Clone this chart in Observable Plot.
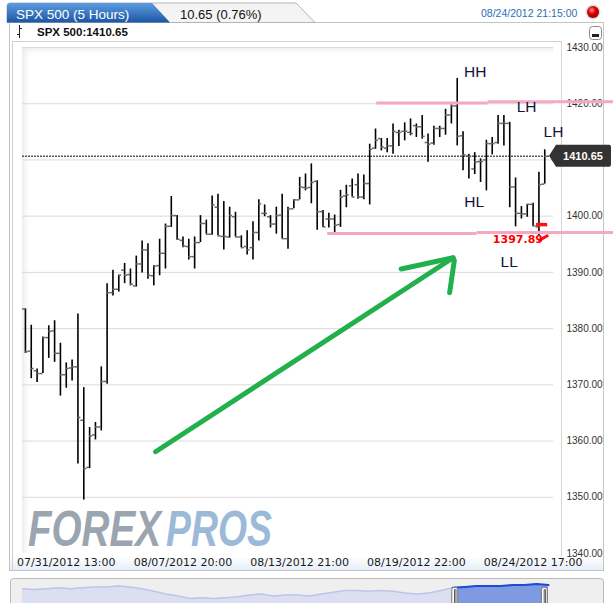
<!DOCTYPE html>
<html><head><meta charset="utf-8">
<script src="https://cdn.jsdelivr.net/npm/d3@7"></script>
<script src="https://cdn.jsdelivr.net/npm/@observablehq/plot@0.6"></script>
<style>
body{margin:0;background:#fff;}
#wrap{position:relative;width:613px;height:603px;overflow:hidden;font-family:"Liberation Sans",Arial,sans-serif;}
#plotbg{position:absolute;left:22px;top:47px;width:531px;height:506px;background:#fff;box-shadow:inset 7px 7px 7px -5px rgba(0,0,0,0.10);}
#chart{position:absolute;left:0;top:0;}
#chrome{position:absolute;left:0;top:0;}
#nav{position:absolute;left:0;top:576px;}
</style></head><body>
<div id="wrap">
<svg id="chrome" width="613" height="603">
  <defs>
    <linearGradient id="blueTab" x1="0" y1="0" x2="0" y2="1">
      <stop offset="0" stop-color="#5f9de2"/><stop offset="1" stop-color="#1b56a3"/>
    </linearGradient>
    <radialGradient id="ball" cx="0.4" cy="0.35" r="0.7">
      <stop offset="0" stop-color="#ff9a9a"/><stop offset="0.45" stop-color="#e30000"/><stop offset="1" stop-color="#8a0000"/>
    </radialGradient>
    <linearGradient id="foot" x1="0" y1="0" x2="0" y2="1">
      <stop offset="0" stop-color="#ffffff"/><stop offset="1" stop-color="#e6eef8"/>
    </linearGradient>
  </defs>
  <rect x="10" y="556" width="593" height="14" fill="url(#foot)"/>
  <rect x="9.5" y="22.5" width="594" height="548" fill="none" stroke="#c4c4c4"/>
  <line x1="12.5" y1="41" x2="12.5" y2="570" stroke="#d0d0d0"/>
  <line x1="12.5" y1="41.5" x2="561" y2="41.5" stroke="#d0d0d0"/>
  <line x1="561.5" y1="41" x2="561.5" y2="556" stroke="#d6d6d6"/>
  <path d="M7,22.5 V6 Q7,3 10,3 H296 L315,22.5 Z" fill="#f4f4f4" stroke="#b5b5b5"/>
  <path d="M7,22.5 V6 Q7,3 10,3 H152 L170,22.5 Z" fill="url(#blueTab)"/>
  <text x="16" y="19" fill="#fff" font-size="13.5">SPX 500 (5 Hours)</text>
  <text x="180" y="19" fill="#111" font-size="13">10.65 (0.76%)</text>
  <text x="481" y="17" fill="#2f6db5" font-size="10.5">08/24/2012 21:15:00</text>
  <circle cx="593" cy="12" r="7.5" fill="#ddd"/>
  <circle cx="593" cy="12" r="6" fill="url(#ball)"/>
  <line x1="19.5" y1="25" x2="19.5" y2="38" stroke="#222"/>
  <line x1="17" y1="34.5" x2="19.5" y2="34.5" stroke="#222"/>
  <line x1="19.5" y1="28.5" x2="22" y2="28.5" stroke="#222"/>
  <text x="37" y="36" fill="#111" font-size="11.5" font-weight="bold">SPX 500:1410.65</text>
  <rect x="589.5" y="26.5" width="12" height="13" rx="3" fill="#fff" stroke="#8a8a8a"/>
  <rect x="592" y="34" width="7" height="3" fill="#222"/>
</svg>
<div id="plotbg"></div>
<svg id="wm" width="613" height="603" style="position:absolute;left:0;top:0">
  <g transform="translate(28,546) scale(1,1.28)">
    <text x="0" y="0" font-size="39" font-weight="bold" font-style="italic" textLength="133" lengthAdjust="spacingAndGlyphs" font-family="Liberation Sans, Arial, sans-serif" fill="#9ba5b0">FOREX</text>
  </g>
  <g transform="translate(166,546) scale(1,1.28)">
    <text x="0" y="0" font-size="39" font-weight="bold" font-style="italic" textLength="106" lengthAdjust="spacingAndGlyphs" font-family="Liberation Sans, Arial, sans-serif" fill="#9cbad8">PROS</text>
  </g>
</svg>
<div id="chart"></div>
<div id="nav"></div>
</div>
<script>
// OHLC of SPX 500, 5-hour bars
const opens  = [1383.5,1376.0,1372.5,1372.0,1378.4,1379.6,1375.6,1371.8,1373.0,1373.2,
                1363.7,1355.3,1361.1,1362.5,1370.6,1386.4,1387.0,1390.4,1389.6,1387.6,
                1391.5,1394.0,1389.4,1391.2,1393.4,1398.2,1400.1,1395.7,1394.6,1392.8,
                1395.3,1398.7,1396.8,1401.6,1396.4,1396.3,1399.9,1396.3,1394.6,1394.4,
                1397.1,1400.5,1399.9,1398.6,1400.2,1396.0,1401.3,1402.9,1405.1,1405.1,
                1406.2,1400.8,1399.5,1399.5,1398.5,1403.6,1405.4,1405.6,1403.4,1405.8,
                1412.1,1413.8,1412.1,1412.5,1414.9,1415.1,1414.9,1416.1,1415.9,1413.1,
                1413.0,1415.6,1415.6,1418.0,1419.6,1414.3,1410.7,1408.4,1409.7,1410.0,
                1412.9,1413.1,1416.5,1416.5,1405.2,1400.5,1400.4,1402.1,1398.1,1405.7];
const highs  = [1383.5,1380.6,1372.8,1378.5,1380.5,1381.4,1377.4,1373.9,1374.4,1382.6,
                1369.5,1362.4,1363.3,1373.2,1388.0,1390.4,1389.5,1391.6,1390.6,1392.9,
                1395.6,1395.1,1391.2,1395.9,1398.6,1403.5,1400.1,1396.3,1395.9,1396.3,
                1400.1,1399.3,1403.6,1403.9,1402.6,1401.6,1400.7,1396.5,1397.4,1399.0,
                1402.9,1402.0,1400.1,1401.6,1403.9,1401.6,1402.9,1406.9,1407.5,1409.3,
                1406.3,1401.0,1400.5,1400.2,1404.6,1405.5,1406.6,1407.5,1407.3,1412.8,
                1415.5,1413.8,1413.8,1416.4,1415.3,1416.6,1417.3,1416.4,1417.9,1414.6,
                1416.0,1416.0,1419.0,1419.8,1424.5,1415.0,1411.0,1411.3,1410.2,1413.5,
                1414.0,1417.9,1417.9,1416.7,1406.8,1401.7,1402.1,1402.3,1407.8,1411.8];
const lows   = [1375.6,1371.1,1370.4,1372.0,1374.7,1374.0,1368.0,1369.4,1370.7,1355.9,
                1349.5,1355.1,1360.2,1361.8,1370.1,1385.8,1386.5,1388.0,1387.6,1387.4,
                1389.9,1388.8,1387.6,1389.4,1390.6,1398.0,1395.7,1394.4,1392.2,1390.6,
                1395.3,1396.8,1396.6,1396.5,1394.0,1396.1,1396.3,1394.4,1393.1,1392.2,
                1395.6,1399.9,1397.9,1396.8,1396.0,1394.1,1401.3,1402.9,1404.5,1402.2,
                1397.5,1398.0,1397.9,1397.1,1398.0,1401.5,1403.4,1403.0,1402.9,1402.0,
                1411.9,1411.6,1411.3,1411.0,1412.4,1413.4,1414.3,1414.0,1413.7,1409.6,
                1412.6,1414.0,1414.4,1416.4,1412.5,1408.1,1406.6,1407.4,1406.0,1404.5,
                1410.9,1412.8,1412.5,1401.5,1398.1,1399.5,1399.8,1398.1,1396.5,1405.7];
const closes = [1375.9,1372.9,1372.0,1378.4,1379.5,1375.6,1371.8,1372.9,1373.2,1364.2,
                1355.1,1360.9,1362.5,1370.6,1386.4,1387.0,1389.5,1389.5,1387.9,1391.5,
                1394.0,1389.5,1391.1,1393.4,1398.2,1400.1,1395.9,1394.7,1392.8,1395.3,
                1398.7,1396.8,1402.0,1396.5,1396.4,1400.1,1396.3,1394.4,1394.0,1397.1,
                1402.2,1400.5,1398.6,1400.1,1396.0,1401.3,1402.9,1405.2,1405.0,1406.0,
                1400.8,1398.1,1399.5,1398.4,1403.4,1403.8,1403.4,1403.4,1405.8,1411.9,
                1413.5,1412.3,1412.5,1415.1,1414.9,1415.1,1414.7,1415.9,1414.2,1412.8,
                1415.6,1415.6,1418.0,1419.6,1414.2,1410.9,1410.6,1409.6,1409.7,1412.9,
                1412.9,1416.5,1416.5,1405.2,1400.5,1400.4,1402.1,1398.3,1405.6,1410.65];

// axes
const yGrid = [1350,1360,1370,1380,1390,1400,1410,1420,1430];
const yTickLabels = [1340,1350,1360,1370,1380,1390,1400,1420,1430]; // 1410 is hidden by the price tag
const xTickBars = [7,27,47,67,87];
const xTickLabels = ["07/31/2012 13:00","08/07/2012 20:00","08/13/2012 21:00","08/19/2012 22:00","08/24/2012 17:00"];

// drawn annotations (bar index, price)
const resistX1 = [60.2, 79.3], resistX2 = [79.3, 100.8], resistY = [1420.12, 1420.35];
const supportX1 = [51.8, 77.4], supportX2 = [77.4, 100.8], supportY = [1396.9, 1397.1];
const arrowX1 = [22.3, 73.3, 73.5], arrowY1 = [1358.1, 1392.6, 1392.1];
const arrowX2 = [73.3, 64.4, 72.7], arrowY2 = [1392.6, 1390.6, 1386.4];
const noteText = ["HH","LH","LH","HL","LL"];
const noteX = [77.1, 85.9, 90.5, 76.9, 82.9];
const noteY = [1425.6, 1419.4, 1415.0, 1402.6, 1391.9];
const lastPrice = 1410.65;
const lowLabel = "1397.89";

// navigator overview (relative level of the longer history)
const navVals = [1389,1385,1389,1394,1389,1394,1398,1398,1403,1398,1389,1376,1362,1353,1340,1344,1340,1344,1349,1358,
                 1362,1353,1358,1358,1353,1362,1371,1380,1380,1376,1380,1376,1367,1362,1367,1380,1394,1398,1403,1403,
                 1403,1407,1407,1412,1407];
const navSelFrom = 36.2, navSelTo = 43.7;

const bars = opens.map((o, i) => ({i, o, h: highs[i], l: lows[i], c: closes[i]}));
const segs = (x1, x2, y) => x1.map((d, k) => ({x1: d, x2: x2[k], y: y[k]}));
const arrows = arrowX1.map((d, k) => ({x1: d, y1: arrowY1[k], x2: arrowX2[k], y2: arrowY2[k]}));
const notes = noteText.map((t, k) => ({t, x: noteX[k], y: noteY[k]}));

const plot = Plot.plot({
  width: 613, height: 575,
  marginLeft: 22, marginRight: 60, marginTop: 47, marginBottom: 22,
  style: {background: "transparent", overflow: "visible", color: "#333", fontFamily: "Liberation Sans, Arial, sans-serif"},
  x: {domain: [-0.5, 90.5], axis: null},
  y: {domain: [1340, 1430], axis: null},
  marks: [
    Plot.ruleY(yGrid, {stroke: "#dadada", strokeWidth: 1}),
    Plot.axisY({anchor: "right", ticks: yTickLabels, tickFormat: d => d.toFixed(2), tickSize: 0, tickPadding: 13, fontSize: 10, textAnchor: "start"}),
    Plot.axisX({anchor: "bottom", ticks: xTickBars, tickFormat: d => xTickLabels[xTickBars.indexOf(d)], tickSize: 0, tickPadding: 5, fontSize: 11, fontFamily: "DejaVu Sans", fill: "#1a1a1a"}),
    Plot.ruleY([lastPrice], {stroke: "#555", strokeWidth: 1.5, strokeDasharray: "2,1"}),
    Plot.ruleX(bars, {x: "i", y1: "l", y2: "h", stroke: "#000", strokeWidth: 1.6}),
    Plot.ruleY(bars, {y: "o", x1: d => d.i - 0.5, x2: "i", stroke: "#666", strokeWidth: 1.5}),
    Plot.ruleY(bars, {y: "c", x1: "i", x2: d => d.i + 0.5, stroke: "#666", strokeWidth: 1.5}),
    Plot.ruleY(segs(resistX1, resistX2, resistY), {x1: "x1", x2: "x2", y: "y", stroke: "#f6a7c3", strokeWidth: 3}),
    Plot.ruleY(segs(supportX1, supportX2, supportY), {x1: "x1", x2: "x2", y: "y", stroke: "#f6a7c3", strokeWidth: 3}),
    Plot.link(arrows, {x1: "x1", y1: "y1", x2: "x2", y2: "y2", stroke: "#22b04c", strokeWidth: 5, strokeLinecap: "round"}),
    Plot.text(notes, {x: "x", y: "y", text: "t", fontSize: 15.5, fill: "#14143a", fontFamily: "Liberation Sans, Arial, sans-serif"}),
    Plot.ruleY([1398.5], {x1: 87.6, x2: 89.5, stroke: "#ff1010", strokeWidth: 3.5}),
    Plot.link([{a: 87.9, b: 1395.6, c: 89.6, d: 1396.6}], {x1: "a", y1: "b", x2: "c", y2: "d", stroke: "#ff1010", strokeWidth: 3}),
    Plot.text([lowLabel], {x: 84.4, y: 1395.85, text: d => d, fill: "#ff0000", fontSize: 11, fontWeight: "bold", fontFamily: "DejaVu Sans"})
  ]
});
document.getElementById("chart").appendChild(plot);

// price tag on the right axis
const sy = plot.scale("y"), sx = plot.scale("x");
const ty = sy.apply(lastPrice), tx = sx.apply(90.5);
const svg = d3.select(plot);
svg.append("path")
  .attr("d", `M${tx - 4},${ty} L${tx + 3},${ty - 11} H${tx + 56} Q${tx + 58},${ty - 11} ${tx + 58},${ty - 9} V${ty + 9} Q${tx + 58},${ty + 11} ${tx + 56},${ty + 11} H${tx + 3} Z`)
  .attr("fill", "#333");
svg.append("text").attr("x", tx + 30).attr("y", ty + 4).attr("text-anchor", "middle")
  .attr("fill", "#fff").attr("font-size", 11).attr("font-weight", "bold").text(lastPrice.toFixed(2));

// navigator
const navData = navVals.map((v, i) => ({i, v}));
const nav = Plot.plot({
  width: 613, height: 40, marginLeft: 22, marginRight: 65, marginTop: 4, marginBottom: 0,
  style: {background: "transparent", overflow: "visible"},
  x: {domain: [0, navVals.length - 1], axis: null},
  y: {domain: [1250, 1430], axis: null},
  marks: [
    Plot.areaY(navData, {x: "i", y1: 1250, y2: "v", fill: "#dcdff1"}),
    Plot.lineY(navData, {x: "i", y: "v", stroke: "#bfc5ea", strokeWidth: 1.5}),
    Plot.areaY(navData.filter(d => d.i >= 36 && d.i <= 44), {x: "i", y1: 1250, y2: "v", fill: "#7f99e3"}),
    Plot.lineY(navData.filter(d => d.i >= 36 && d.i <= 44), {x: "i", y: "v", stroke: "#1c4bd6", strokeWidth: 2}),
    Plot.rectY([navSelFrom, navSelTo], {x1: d => d - 0.25, x2: d => d + 0.25, y1: 1250, y2: 1393, fill: "#fff", stroke: "#777", strokeWidth: 1, rx: 2}),
    Plot.ruleX([navSelFrom - 0.06, navSelFrom + 0.06, navSelTo - 0.06, navSelTo + 0.06], {y1: 1262, y2: 1385, stroke: "#555", strokeWidth: 1})
  ]
});
document.getElementById("nav").appendChild(nav);
d3.select("#nav svg").insert("rect", ":first-child").attr("x", 10.5).attr("y", 2.5).attr("width", 593).attr("height", 40).attr("rx", 3).attr("fill", "#efefef").attr("stroke", "#bbb");
</script>
</body></html>
